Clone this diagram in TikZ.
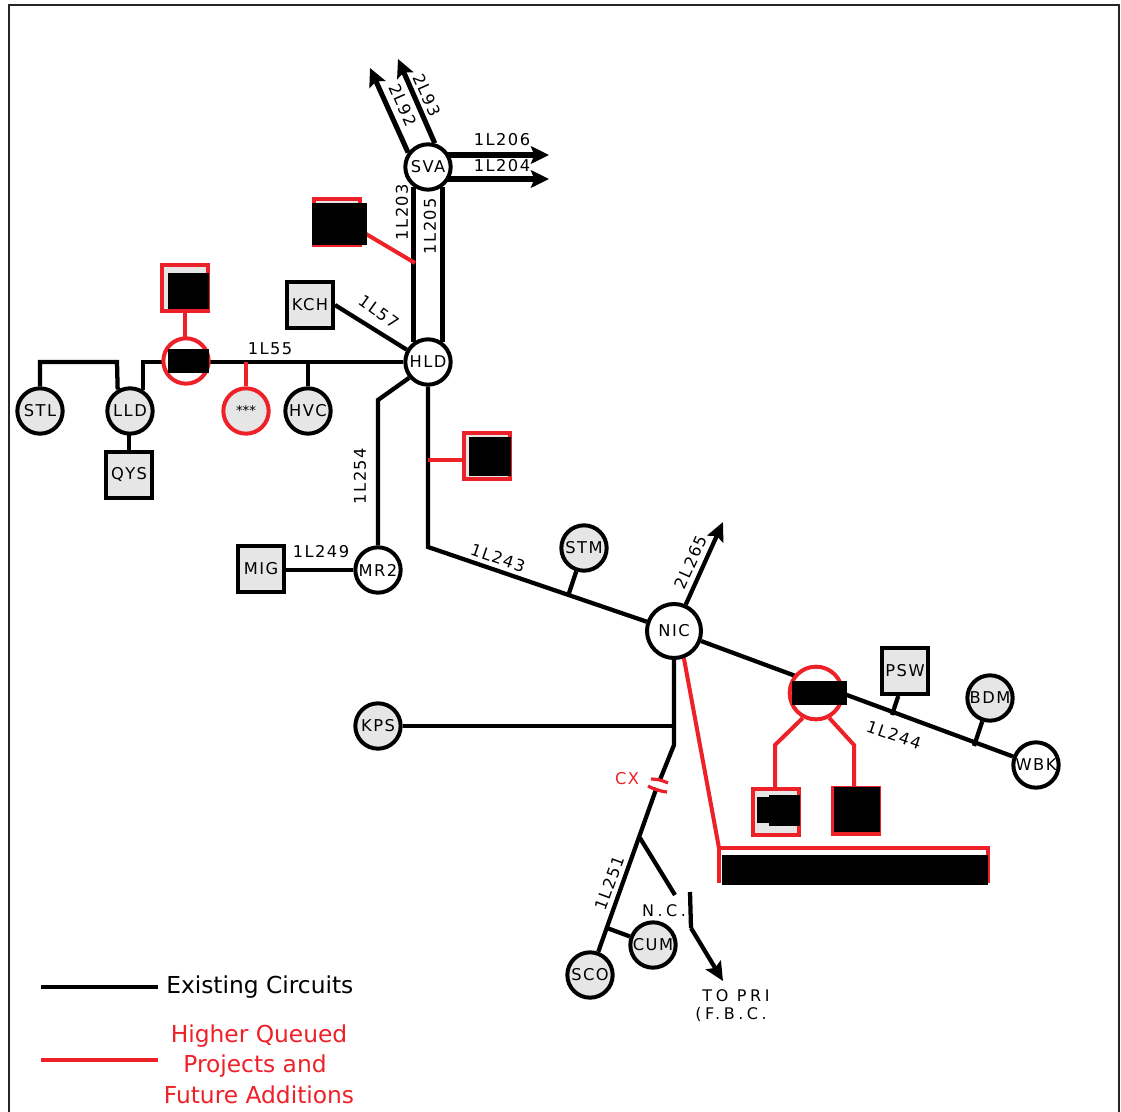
\documentclass[tikz,border=0pt]{standalone}
\usepackage{fontspec}
\setmainfont{DejaVu Sans}
\newfontfamily\labfont[LetterSpace=9]{DejaVu Sans}
\newfontfamily\widefont[LetterSpace=22]{DejaVu Sans}
\usetikzlibrary{arrows.meta,backgrounds}
\definecolor{redx}{HTML}{EE2028}
\definecolor{greyx}{HTML}{E6E6E6}
\tikzset{
  wire/.style={line width=3.2pt,black,line join=miter},
  thickwire/.style={line width=3.8pt,black},
  redwire/.style={line width=3pt,redx,line join=miter},
  arrowwire/.style={wire,-{Stealth[length=14pt,width=13pt,inset=2.5pt]}},
  thickarrow/.style={thickwire,-{Stealth[length=13.5pt,width=13pt,inset=2.5pt]}},
  cnode/.style={circle,draw=black,line width=3pt,fill=greyx,inner sep=0pt,minimum size=34pt,font=\labfont\fontsize{12.2}{12}\selectfont},
  wnode/.style={cnode,fill=white},
  rnode/.style={cnode,draw=redx},
  snode/.style={rectangle,draw=black,line width=3pt,fill=greyx,inner sep=0pt,minimum size=34.5pt,font=\labfont\fontsize{12.2}{12}\selectfont},
  rsnode/.style={snode,draw=redx},
  lab/.style={inner sep=0pt,font=\labfont\fontsize{12.2}{12}\selectfont},
  widelab/.style={inner sep=0pt,font=\widefont\fontsize{12}{12}\selectfont},
  legend/.style={inner sep=0pt,font=\fontsize{17.5}{18}\selectfont}
}
\begin{document}
\begin{tikzpicture}[x=0.75pt,y=-0.75pt]
\useasboundingbox (0,0) rectangle (1121,1112);
\draw[line width=1.5pt,black!85] (9,1112) -- (9,5) -- (1119,5) -- (1119,1112);

% stations
\node[wnode] (SVA) at (428,167) {SVA};
\node[wnode] (HLD) at (428,362) {HLD};
\node[snode] (KCH) at (310,305) {KCH};
\node[cnode] (STL) at (40,411) {STL};
\node[cnode] (LLD) at (130,411) {LLD};
\node[snode] (QYS) at (129,475) {QYS};
\node[rnode,fill=white] (R1) at (186,361) {};
\node[rsnode] (RS1) at (185,288) {};
\node[rnode,font=\fontsize{10}{10}\selectfont] (STAR) at (246,411) {***};
\node[cnode] (HVC) at (308,411) {HVC};
\node[rsnode] (RS2) at (337,222.500) {};
\node[rsnode] (RS3) at (487,456) {};
\node[wnode] (MR2) at (378,570) {MR2};
\node[snode] (MIG) at (261,569) {MIG};
\node[cnode] (KPS) at (378,726) {KPS};
\node[cnode] (STM) at (584,548) {STM};
\node[wnode,minimum size=40.5pt] (NIC) at (674,631) {NIC};
\node[snode] (PSW) at (905,671) {PSW};
\node[cnode] (BDM) at (990,698) {BDM};
\node[wnode] (WBK) at (1036,765) {WBK};
\node[rnode,fill=white,minimum size=39.5pt] (R2) at (816,693) {};
\node[rsnode] (RS4) at (776,812) {};
\node[rsnode] (RS5) at (856,811) {};
\node[cnode] (CUM) at (653,945) {CUM};
\node[cnode] (SCO) at (590,975) {SCO};

% junctions
\coordinate (J1) at (143,362);
\coordinate (J2) at (40,362);
\coordinate (J3) at (117,362);
\coordinate (J4) at (246,362);
\coordinate (J5) at (308,362);
\coordinate (J6) at (378,400);
\coordinate (J7) at (428,547);
\coordinate (J8) at (428,460);
\coordinate (J9) at (415,263);
\coordinate (J10) at (568,596);
\coordinate (J11) at (892,715);
\coordinate (J12) at (974,746);
\coordinate (J13) at (674,726);
\coordinate (J14) at (674,745);
\coordinate (J15) at (640,838);
\coordinate (J16) at (675,895);
\coordinate (J17) at (607,928);
\coordinate (J18) at (690,892);
\coordinate (J19) at (691,928);
\coordinate (J20) at (723,981);
\coordinate (CXA) at (659.500,781);
\coordinate (CXB) at (656.500,788);
\coordinate (T1) at (549,155);
\coordinate (T2) at (549,179);
\coordinate (T3) at (370,68);
\coordinate (T4) at (398,59);
\coordinate (T5) at (723,522);
\coordinate (R3) at (775,745);
\coordinate (R4) at (854,745);
\coordinate (R5) at (719,848);
\coordinate (R6) at (719,883);
\coordinate (R7) at (988,848);
\coordinate (R8) at (988,883);
\coordinate (L1) at (41,987);
\coordinate (L2) at (158,987);
\coordinate (L3) at (41,1060);
\coordinate (L4) at (158,1060);

\begin{pgfonlayer}{background}
  \draw[thickarrow] (SVA.74) -- (T4);
  \draw[thickarrow] (SVA.144) -- (T3);
  \draw[thickarrow] (SVA |- T1) -- (T1);
  \draw[thickarrow] (SVA |- T2) -- (T2);
  \draw[thickwire] (SVA.235) -- (HLD.125);
  \draw[thickwire] (SVA.-55) -- (HLD.55);
  \draw[wire] (KCH.east) -- (HLD.150);
  \draw[wire] (R1 |- HLD) -- (HLD);
  \draw[wire] (R1 |- J1) -- (J1) -- (J1 |- LLD.60);
  \draw[wire] (STL) -- (J2) -- (J3) -- (LLD.120);
  \draw[wire] (QYS |- LLD) -- (QYS);
  \draw[wire] (J5) -- (HVC);
  \draw[wire] (HLD.220) -- (J6) -- (MR2);
  \draw[wire] (MIG |- MR2) -- (MR2);
  \draw[wire] (HLD) -- (J7) -- (NIC);
  \draw[wire] (J10) -- (STM);
  \draw[wire] (NIC) -- (WBK);
  \draw[wire] (J11) -- (PSW.-105);
  \draw[wire] (J12) -- (BDM);
  \draw[arrowwire] (NIC.66) -- (T5);
  \draw[wire] (KPS) -- (J13);
  \draw[wire] (NIC) -- (J14) -- (CXA);
  \draw[wire] (CXB) -- (SCO);
  \draw[wire] (J15) -- (J16);
  \draw[wire] (J17) -- (CUM);
  \draw[wire,line cap=butt] (J18) -- (J19);
  \draw[arrowwire] (J19) -- (J20);
  \draw[redwire] (RS1) -- (RS1 |- R1);
  \draw[redwire] (J4) -- (STAR);
  \draw[redwire] (RS2.-20) -- (J9);
  \draw[redwire] (J8) -- (J8 -| RS3);
  \draw[redwire] (R2.-118) -- (R3) -- (RS4.north -| R3);
  \draw[redwire] (R2.-62) -- (R4) -- (RS5.north -| R4);
  \draw[redwire] (NIC.-70) -- (R5);
  \draw[redwire] (R6) -- (R5) -- (R7) -- (R8);
  \draw[redwire,line width=2.4pt] (651,779) to[bend left=12] (668,783);
  \draw[redwire,line width=2.4pt] (648,786) to[bend right=10] (667,792);
\end{pgfonlayer}

% redactions
\fill[black] (312,203) rectangle (367,245);
\fill[black] (168,273) rectangle (209,309);
\fill[black] (168,349) rectangle (209,373);
\fill[black] (469,437) rectangle (511,476);
\fill[black] (792,681) rectangle (847,705);
\fill[black] (757,797) rectangle (769,823);
\fill[black] (769,795) rectangle (800,826);
\fill[black] (834,787) rectangle (880,832);
\fill[black] (722,855) rectangle (988,885);

% labels
\node[lab,rotate=-66] (l2L92) at (403,105) {2L92};
\node[lab,rotate=-66] (l2L93) at (427,95) {2L93};
\node[lab] (l1L206) at (502,140) {1L206};
\node[lab] (l1L204) at (502,166) {1L204};
\node[lab,rotate=90] (l1L203) at (402,212) {1L203};
\node[lab,rotate=90] (l1L205) at (430,226) {1L205};
\node[lab,rotate=-36] (l1L57) at (379,312) {1L57};
\node[lab] (l1L55) at (270,349) {1L55};
\node[lab,rotate=90] (l1L254) at (360,476) {1L254};
\node[lab] (l1L249) at (321,552) {1L249};
\node[lab,rotate=-19] (l1L243) at (498,558) {1L243};
\node[lab,rotate=66] (l2L265) at (691,562) {2L265};
\node[lab,rotate=-19] (l1L244) at (894,735) {1L244};
\node[lab,text=redx] (lCX) at (627,779) {CX};
\node[lab,rotate=70] (l1L251) at (610,883) {1L251};
\node[widelab] (lNC) at (664,911) {N.C.};
\node[widelab] (lPRI) at (736,996) {TO PRI};
\node[widelab] (lFBC) at (731,1014) {(F.B.C.};

% legend
\draw[line width=2.5pt,black] (L1) -- (L2);
\draw[line width=2.5pt,redx] (L3) -- (L4);
\node[legend,anchor=west] (lE) at (166,987) {Existing Circuits};
\node[legend,text=redx] (lH) at (259,1036) {Higher Queued};
\node[legend,text=redx] (lP) at (255,1066) {Projects and};
\node[legend,text=redx] (lF) at (259,1095) {Future Additions};
\end{tikzpicture}
\end{document}
